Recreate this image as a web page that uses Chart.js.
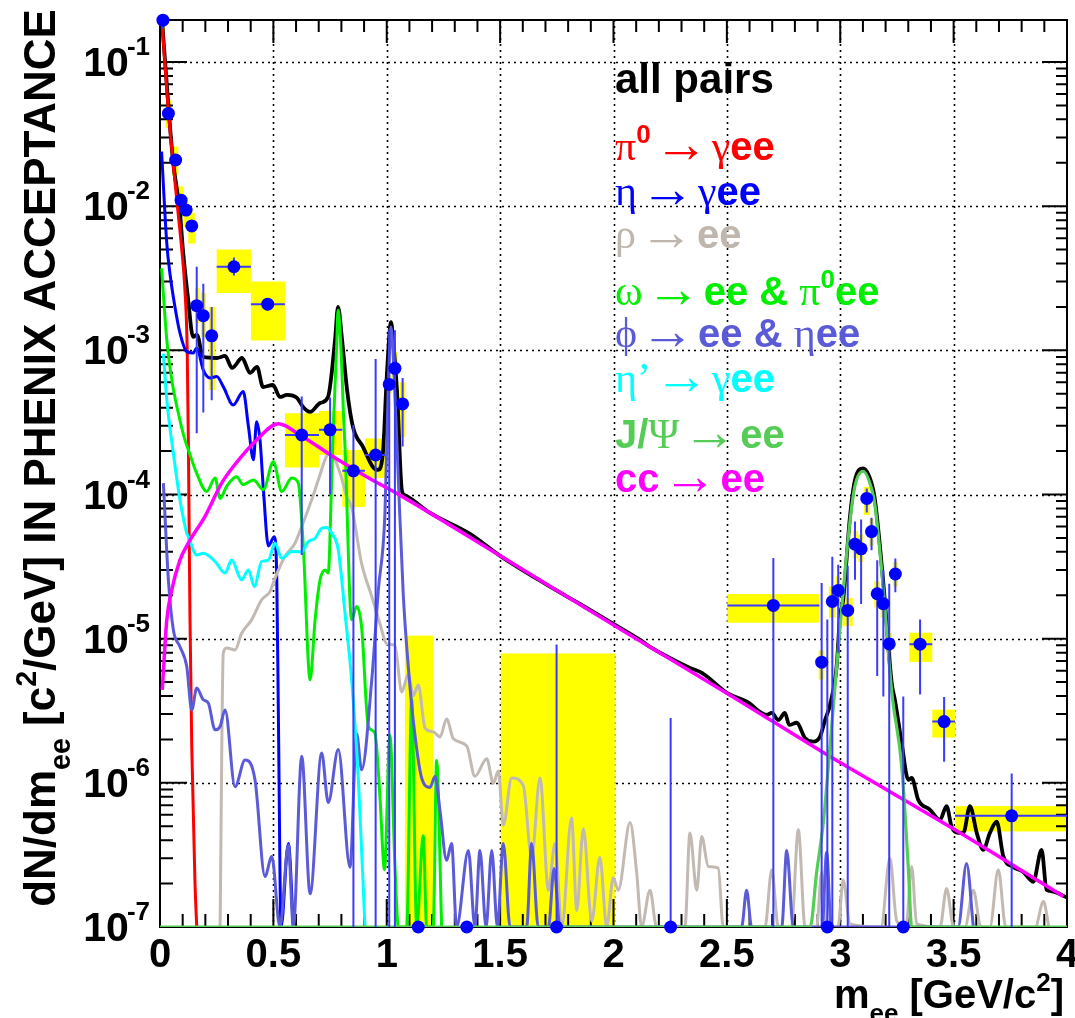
<!DOCTYPE html>
<html><head><meta charset="utf-8">
<script src="https://cdn.jsdelivr.net/npm/chart.js@4.4.1/dist/chart.umd.min.js"></script>
<style>html,body{margin:0;padding:0;background:#fff}#wrap{width:1075px;height:1018px}</style>
</head><body><div id="wrap"><canvas id="c" width="1075" height="1018"></canvas></div>
<script>
// ---------------- DATA ----------------
const xTickLabels = ["0","0.5","1","1.5","2","2.5","3","3.5","4"];
const xTickValues = [0,0.5,1,1.5,2,2.5,3,3.5,4];
const yDecades = [-1,-2,-3,-4,-5,-6,-7];

const allPairs = [[0.009,0.195],[0.035,0.0545],[0.057,0.0209],[0.088,0.009],[0.101,0.005],[0.123,0.00234],[0.146,0.00124],[0.163,0.00128],[0.19,9.0e-4],[0.251,8.85e-4],[0.287,9.14e-4],[0.318,7.55e-4],[0.362,8.85e-4],[0.397,6.97e-4],[0.428,7.67e-4],[0.454,5.57e-4],[0.498,5.75e-4],[0.529,4.75e-4],[0.56,4.91e-4],[0.604,4.68e-4],[0.631,4.05e-4],[0.662,3.74e-4],[0.706,4.31e-4],[0.741,4.75e-4],[0.772,1.18e-3],[0.785,2.0e-3],[0.803,1.18e-3],[0.825,5.31e-4],[0.851,2.94e-4],[0.895,2.14e-4],[0.939,1.55e-4],[0.961,1.48e-4],[0.983,1.94e-4],[1.001,6.97e-4],[1.019,1.57e-3],[1.028,1.18e-3],[1.045,5.31e-4],[1.067,1.06e-4],[1.08,9.9e-5],[1.191,7.45e-5],[1.367,5.33e-5],[1.5,3.75e-5],[1.707,2.36e-5],[1.852,1.74e-5],[1.998,1.27e-5],[2.117,9.8e-6],[2.161,8.77e-6],[2.337,6.27e-6],[2.39,5.79e-6],[2.5,4.21e-6],[2.589,3.65e-6],[2.676,2.96e-6],[2.698,3.06e-6],[2.727,2.73e-6],[2.756,3.06e-6],[2.775,2.52e-6],[2.808,2.61e-6],[2.845,2.04e-6],[2.881,1.93e-6],[2.911,2.09e-6],[2.933,2.73e-6],[2.955,3.48e-6],[2.984,6.41e-6],[2.999,1.42e-5],[3.013,1.86e-5],[3.043,7.03e-5],[3.065,1.26e-4],[3.101,1.52e-4],[3.138,1.2e-4],[3.153,9.18e-5],[3.19,2.43e-5],[3.227,4.91e-6],[3.241,3.77e-6],[3.271,1.89e-6],[3.3,1.05e-6],[3.315,1.08e-6],[3.344,7.62e-7],[3.396,6.5e-7],[3.44,5.54e-7],[3.469,6.9e-7],[3.491,4.95e-7],[3.521,4.5e-7],[3.543,4.5e-7],[3.572,6.9e-7],[3.602,4.5e-7],[3.631,3.43e-7],[3.66,4.5e-7],[3.69,5.37e-7],[3.719,3.1e-7],[3.763,2.61e-7],[3.807,2.41e-7],[3.851,2.06e-7],[3.888,3.43e-7],[3.91,1.81e-7],[3.932,1.77e-7],[4.0,1.6e-7]];

const pi0Dalitz = [[0.009,0.19],[0.035,0.05],[0.074,0.011],[0.096,0.005],[0.11,0.0026],[0.12,1.0e-3],[0.125,2.4e-4],[0.129,4.8e-5],[0.132,1.5e-5],[0.14,1.8e-6],[0.154,2.1e-7],[0.162,1.0e-7]];

const etaDalitz = [[0.007,0.0239],[0.03,0.0055],[0.044,0.0034],[0.066,0.0020],[0.088,0.00132],[0.118,9.8e-4],[0.147,9.6e-4],[0.162,1.04e-3],[0.191,7.3e-4],[0.221,6.44e-4],[0.25,6.58e-4],[0.279,5.6e-4],[0.323,4.18e-4],[0.367,5.18e-4],[0.39,2.96e-4],[0.412,1.74e-4],[0.426,3.2e-4],[0.441,2.39e-4],[0.456,1.08e-4],[0.478,4.4e-5],[0.504,5.1e-5],[0.515,2.6e-5],[0.522,3.0e-6],[0.534,1e-7],[0.566,3.8e-7],[0.588,1e-7]];

const rhoEE = [[0.265,1e-7],[0.279,7.94e-6],[0.294,8.6e-6],[0.331,8.36e-6],[0.36,1.09e-5],[0.404,1.35e-5],[0.448,1.86e-5],[0.485,2.12e-5],[0.507,2.62e-5],[0.551,3.71e-5],[0.595,4.59e-5],[0.625,5.98e-5],[0.669,9.18e-5],[0.698,1.26e-4],[0.742,1.93e-4],[0.75,1.95e-4],[0.794,1.41e-4],[0.823,9.7e-5],[0.845,8.2e-5],[0.889,3.33e-5],[0.934,1.96e-5],[0.97,1.27e-5],[1.0,9.2e-6],[1.036,8.97e-6],[1.066,4.26e-6],[1.095,5.67e-6],[1.117,4.02e-6],[1.139,4.78e-6],[1.169,2.4e-6],[1.205,2.26e-6],[1.235,2.08e-6],[1.264,2.77e-6],[1.294,2.02e-6],[1.353,1.8e-6],[1.389,1.11e-6],[1.441,1.47e-6],[1.47,9.9e-7],[1.492,1.21e-6],[1.514,5.1e-7],[1.551,1.08e-6],[1.602,9.6e-7],[1.639,3.05e-7],[1.676,1.08e-6],[1.713,1.8e-7],[1.742,3.8e-7],[1.772,1e-7],[1.815,5.7e-7],[1.838,1.3e-7],[1.867,4.8e-7],[1.904,1.1e-7],[1.94,3.05e-7],[1.97,1e-7],[1.999,2.2e-7],[2.021,1.8e-7],[2.073,5.3e-7],[2.102,2.4e-7],[2.124,1e-7],[2.161,1.8e-7],[2.19,1e-7],[2.315,1e-7],[2.337,4.48e-7],[2.367,1.8e-7],[2.389,4.25e-7],[2.418,2.63e-7],[2.462,2.56e-7],[2.484,1e-7],[2.668,1e-7],[2.698,2.5e-7],[2.727,1e-7],[2.785,1e-7],[2.815,4.72e-7],[2.845,1e-7],[2.896,1e-7],[2.918,2.4e-7],[2.94,1e-7],[2.99,1e-7],[3.013,2.12e-7],[3.043,1.05e-7],[3.18,1e-7],[3.219,3.0e-7],[3.249,1.1e-7],[3.29,1e-7],[3.315,2.63e-7],[3.337,1.05e-7],[3.44,1e-7],[3.469,1.85e-7],[3.5,1e-7],[3.55,1e-7],[3.587,1.8e-7],[3.62,1e-7],[3.66,1e-7],[3.697,2.5e-7],[3.73,1e-7],[3.86,1e-7],[3.896,1.5e-7],[3.92,1e-7]];

const omegaEE = [[0.007,3.71e-3],[0.03,1.18e-3],[0.052,6.24e-4],[0.081,3.66e-4],[0.11,2.39e-4],[0.125,2.04e-4],[0.162,1.4e-4],[0.206,1.05e-4],[0.243,1.3e-4],[0.265,9.4e-5],[0.294,1.14e-4],[0.338,1.33e-4],[0.367,1.17e-4],[0.412,1.26e-4],[0.456,1.08e-4],[0.5,1.69e-4],[0.537,1.05e-4],[0.581,1.3e-4],[0.61,1.2e-4],[0.632,4.36e-5],[0.662,5.18e-6],[0.684,1.35e-5],[0.706,2.56e-5],[0.728,3.0e-5],[0.742,2.85e-5],[0.757,1.26e-4],[0.764,2.8e-4],[0.779,1.06e-3],[0.785,1.9e-3],[0.801,8.15e-4],[0.809,3.66e-4],[0.816,2.15e-4],[0.845,1.35e-5],[0.867,1.67e-5],[0.889,1.21e-5],[0.919,2.46e-6],[0.948,2.21e-6],[0.97,8e-7],[0.99,2.5e-7],[1.014,2.14e-6],[1.036,2.7e-7],[1.051,1e-7],[1.088,1e-7],[1.11,3.8e-6],[1.132,1e-7],[1.161,4.3e-7],[1.176,1e-7],[1.205,1e-7],[1.22,1.43e-6],[1.242,1e-7]];

const phiEE = [[0.015,1.2e-4],[0.037,2.56e-5],[0.059,1.15e-5],[0.088,8.8e-6],[0.118,6.4e-6],[0.14,3.2e-6],[0.162,4.54e-6],[0.191,3.77e-6],[0.213,3.58e-6],[0.243,2.33e-6],[0.265,2.46e-6],[0.287,3.2e-6],[0.331,9.4e-7],[0.375,1.44e-6],[0.419,1.05e-6],[0.463,2.24e-7],[0.493,3.08e-7],[0.529,1e-7],[0.566,3.7e-7],[0.588,1e-7],[0.625,1.53e-6],[0.662,1.7e-7],[0.713,1.61e-6],[0.742,7.3e-7],[0.786,1.7e-6],[0.838,2.6e-7],[0.867,2.2e-6],[0.889,1.23e-6],[0.934,5.2e-6],[0.963,2.18e-5],[0.992,7.4e-5],[1.006,5e-4],[1.019,1.45e-3],[1.032,7e-4],[1.051,1.29e-4],[1.073,2e-5],[1.095,6.4e-6],[1.117,2.7e-6],[1.154,1.08e-6],[1.191,9.3e-7],[1.213,1.11e-6],[1.235,6.4e-7],[1.264,2.9e-7],[1.286,3.8e-7],[1.308,1e-7],[1.36,3.4e-7],[1.389,1e-7],[1.411,3.4e-7],[1.438,1e-7],[1.463,3.4e-7],[1.488,1e-7],[1.514,3.8e-7],[1.544,1e-7],[1.617,1e-7],[1.639,3.8e-7],[1.668,1e-7],[1.713,1e-7],[1.738,2.55e-7],[1.764,1e-7],[2.565,1e-7],[2.587,1.8e-7],[2.609,1e-7],[2.742,1e-7],[2.764,3.4e-7],[2.793,1e-7],[2.92,1e-7],[2.94,3.3e-7],[2.96,1e-7],[3.52,1e-7],[3.557,2.76e-7],[3.587,1e-7]];

const etaPrimeDalitz = [[0.015,9.5e-4],[0.03,4.53e-4],[0.059,1.93e-4],[0.088,9.2e-5],[0.118,5.4e-5],[0.125,5.1e-5],[0.162,3.81e-5],[0.191,3.92e-5],[0.243,3.43e-5],[0.287,2.85e-5],[0.316,3.51e-5],[0.36,2.56e-5],[0.39,3.0e-5],[0.416,2.3e-5],[0.448,3.43e-5],[0.478,3.51e-5],[0.507,4.6e-5],[0.537,3.61e-5],[0.581,4.02e-5],[0.625,4.0e-5],[0.654,4.71e-5],[0.684,4.97e-5],[0.713,5.83e-5],[0.735,5.9e-5],[0.757,5.4e-5],[0.786,4.13e-5],[0.816,1.5e-5],[0.845,5.2e-6],[0.875,1.05e-6],[0.904,1e-7]];

const jpsiEE = [[0,1e-7],[2.867,1e-7],[2.896,2.4e-7],[2.925,5.25e-7],[2.955,1.8e-6],[2.999,1.2e-5],[3.043,6.5e-5],[3.065,1.15e-4],[3.101,1.45e-4],[3.138,1.1e-4],[3.153,8.5e-5],[3.19,2.2e-5],[3.227,4.3e-6],[3.271,1.3e-6],[3.3,2.6e-7],[3.315,1e-7],[4,1e-7]];

const charmEE = [[0.01,4.42e-6],[0.03,1.35e-5],[0.052,2.18e-5],[0.088,3.51e-5],[0.125,4.61e-5],[0.198,7.03e-5],[0.272,1.2e-4],[0.323,1.56e-4],[0.426,2.39e-4],[0.522,3.09e-4],[0.617,2.59e-4],[0.764,1.83e-4],[0.911,1.33e-4],[1.058,9.9e-5],[1.5,3.76e-5],[2.073,1.06e-5],[2.5,4.19e-6],[2.955,1.52e-6],[3.506,4.72e-7],[3.984,1.63e-7]];

// measured points (1e-7 = at/below lower edge; 1e-8 = error reaching below the frame)
const ptX   = [0.013,0.037,0.069,0.093,0.115,0.14,0.162,0.191,0.228,0.326,0.475,0.625,0.75,0.853,0.951,1.011,1.036,1.07,1.139,1.353,1.749,2.252,2.705,2.918,2.943,2.965,2.991,3.033,3.065,3.092,3.117,3.138,3.163,3.19,3.216,3.243,3.278,3.352,3.458,3.756];
const ptY   = [0.195,0.044,0.0209,0.011,0.0094,0.0073,0.00204,0.00174,0.00126,0.0038,0.00209,2.59e-4,2.81e-4,1.46e-4,1.88e-4,5.8e-4,7.5e-4,4.25e-4,1e-7,1e-7,1e-7,1e-7,1.7e-5,6.87e-6,1e-7,1.81e-5,2.16e-5,1.57e-5,4.52e-5,4.2e-5,9.4e-5,5.53e-5,2.05e-5,1.75e-5,9.2e-6,2.81e-5,1e-7,9.16e-6,2.66e-6,5.9e-7];
const ptXLo = [0.005,0.025,0.054,0.078,0.103,0.125,0.154,0.18,0.215,0.25,0.401,0.551,0.701,0.804,0.904,1.0,1.025,1.058,1.08,1.34,1.503,2.24,2.502,2.905,2.93,2.95,2.98,3.01,3.055,3.08,3.105,3.128,3.15,3.178,3.205,3.232,3.27,3.305,3.406,3.506];
const ptXHi = [0.022,0.052,0.081,0.103,0.125,0.154,0.172,0.203,0.245,0.401,0.551,0.701,0.804,0.904,0.992,1.022,1.047,1.08,1.205,1.36,2.006,2.26,2.908,2.93,2.95,2.98,3.0,3.055,3.078,3.1,3.13,3.148,3.175,3.2,3.228,3.255,3.29,3.406,3.506,4.0];
const ptErrLo = [0.17,0.040,0.019,0.0102,0.0087,0.0067,2.66e-4,3.7e-4,4.5e-4,0.0033,0.0019,3.8e-5,1.0e-4,1e-8,1e-8,1e-8,1e-8,2.15e-4,null,null,1e-8,1e-8,1e-8,1e-8,1e-8,1e-8,8e-6,1e-8,2.56e-5,1.74e-5,7.5e-5,4.1e-5,5.5e-6,3.97e-6,1e-8,2.1e-5,1e-8,4.1e-6,1.4e-6,1e-8];
const ptErrHi = [0.22,0.048,0.023,0.0118,0.0101,0.0079,3.8e-3,2.9e-3,2.0e-3,0.0044,0.0023,4.78e-4,4.7e-4,3.04e-4,8.7e-4,1.4e-3,1.38e-3,6.44e-4,null,null,9.1e-6,2.82e-6,3.63e-5,2.43e-5,1.36e-5,3.7e-5,3.25e-5,3.2e-5,6.5e-5,6.7e-5,1.1e-4,6.9e-5,3.5e-5,3.0e-5,2.4e-5,3.6e-5,3.97e-6,1.36e-5,3.94e-6,1.16e-6];
const ptSysLo = [0.154,0.0348,0.0164,0.0085,0.0072,0.0055,1.55e-3,1.24e-3,5.3e-4,0.0025,0.00117,1.54e-4,1.88e-4,8.2e-5,1.3e-4,5.0e-4,5.9e-4,2.5e-4,1e-8,null,1e-8,null,1.29e-5,5.2e-6,null,1.4e-5,1.7e-5,1.22e-5,3.6e-5,3.4e-5,7.2e-5,4.4e-5,1.65e-5,1.4e-5,7.0e-6,2.3e-5,null,6.9e-6,2.06e-6,4.6e-7];
const ptSysHi = [0.25,0.0545,0.0259,0.0137,0.011,0.009,2.7e-3,2.5e-3,2.0e-3,0.005,0.003,3.66e-4,3.8e-4,2.04e-4,2.45e-4,6.7e-4,9.8e-4,6.0e-4,1.05e-5,null,7.9e-6,null,2.04e-5,8.3e-6,null,2.3e-5,2.7e-5,1.92e-5,5.6e-5,5.3e-5,1.13e-4,6.8e-5,2.5e-5,2.2e-5,1.1e-5,3.4e-5,null,1.1e-5,3.22e-6,6.9e-7];

// ---------------- RENDER ----------------
const SANS = '"Liberation Sans", Arial, Helvetica, sans-serif';
const SERIF = '"Liberation Serif", "DejaVu Serif", "Times New Roman", serif';
const STY = {
  b:   {font: s => `bold ${40*s}px ${SANS}`, dy: 0},
  L:   {font: s => `bold ${42*s}px ${SANS}`, dy: 0},
  s:   {font: s => `${42*s}px ${SERIF}`, dy: 0},
  a:   {font: s => `${54*s}px ${SERIF}`, dy: 2},
  sp:  {font: s => `${14*s}px ${SERIF}`, dy: 0},
  sup: {font: s => `bold ${26*s}px ${SANS}`, dy: -17},
  sub: {font: s => `bold ${26*s}px ${SANS}`, dy: 14}
};
function richWidth(ctx, segs, sc){ let w=0; for(const g of segs){ctx.font=STY[g[1]].font(sc); w+=ctx.measureText(g[0]).width;} return w; }
function drawRich(ctx, x, y, segs, sc, color){
  let cx=x;
  for(const g of segs){ const st=STY[g[1]]; ctx.font=st.font(sc); ctx.fillStyle=g[2]||color; ctx.fillText(g[0],cx,y+st.dy*sc); cx+=ctx.measureText(g[0]).width; }
  return cx;
}
const legendLines = [
  {y:93,  c:'#000000', segs:[["all pairs","L"]]},
  {y:160, c:'#ff0000', segs:[["π","s"],["0","sup"],[" ","sp"],["→","a"],[" ","sp"],["γ","s"],["ee","b"]]},
  {y:205, c:'#0000ff', segs:[["η","s"],[" ","sp"],["→","a"],[" ","sp"],["γ","s"],["ee","b"]]},
  {y:248, c:'#bfb6ad', segs:[["ρ","s"],[" ","sp"],["→","a"],[" ","sp"],["ee","b"]]},
  {y:305, c:'#00ee00', segs:[["ω","s"],[" ","sp"],["→","a"],[" ","sp"],["ee & ","b"],["π","s"],["0","sup"],["ee","b"]]},
  {y:347, c:'#5b5bd8', segs:[["ϕ","s"],[" ","sp"],["→","a"],[" ","sp"],["ee & ","b"],["η","s"],["ee","b"]]},
  {y:392, c:'#00ffff', segs:[["η’","s"],[" ","sp"],["→","a"],[" ","sp"],["γ","s"],["ee","b"]]},
  {y:448, c:'#55cc55', segs:[["J/","b"],["Ψ","s"],[" ","sp"],["→","a"],[" ","sp"],["ee","b"]]},
  {y:492, c:'#ff00ff', segs:[["cc","b"],[" ","sp"],["→","a"],[" ","sp"],["ee","b"]]}
];

const decor = {
  id:'decor',
  beforeDatasetsDraw(chart){
    const {ctx, chartArea:a, scales:{x,y}} = chart;
    ctx.save();
    ctx.strokeStyle='#000'; ctx.lineWidth=1.6; ctx.setLineDash([2,4]);
    for(const v of xTickValues){ if(v<=0||v>=4) continue; const px=Math.round(x.getPixelForValue(v))+0.5; ctx.beginPath(); ctx.moveTo(px,a.top); ctx.lineTo(px,a.bottom); ctx.stroke(); }
    for(const d of yDecades){ if(d<=-7) continue; const py=Math.round(y.getPixelForValue(Math.pow(10,d)))+0.5; ctx.beginPath(); ctx.moveTo(a.left,py); ctx.lineTo(a.right,py); ctx.stroke(); }
    ctx.setLineDash([]);
    ctx.beginPath(); ctx.rect(a.left,a.top,a.right-a.left,a.bottom-a.top); ctx.clip();
    ctx.fillStyle='#ffff00';
    for(let i=0;i<ptX.length;i++){
      if(ptSysLo[i]==null||ptSysHi[i]==null) continue;
      const x0=x.getPixelForValue(ptXLo[i]), x1=x.getPixelForValue(ptXHi[i]);
      const y0=y.getPixelForValue(ptSysHi[i]), y1=y.getPixelForValue(ptSysLo[i]);
      ctx.fillRect(x0,y0,x1-x0,y1-y0);
    }
    ctx.restore();
    ctx.save();
    ctx.strokeStyle='#000'; ctx.lineWidth=2;
    ctx.strokeRect(a.left,a.top,a.right-a.left,a.bottom-a.top);
    ctx.beginPath();
    for(let i=1;i<40;i++){ const v=i/10, px=x.getPixelForValue(v), maj=(i%5===0);
      ctx.moveTo(px,a.bottom); ctx.lineTo(px,a.bottom-(maj?28:13));
      ctx.moveTo(px,a.top); ctx.lineTo(px,a.top+(maj?23:12)); }
    for(let d=-7; d<=-1; d++){ for(let m=1;m<=9;m++){ const v=m*Math.pow(10,d); if(v>y.max||v<y.min) continue;
      const py=y.getPixelForValue(v), maj=(m===1);
      ctx.moveTo(a.left,py); ctx.lineTo(a.left+(maj?27:13),py);
      ctx.moveTo(a.right,py); ctx.lineTo(a.right-(maj?25:11),py); } }
    ctx.stroke();
    ctx.restore();
  },
  beforeDatasetDraw(chart,args){
    if(args.index!==0) return;
    const {ctx, chartArea:a, scales:{x,y}} = chart;
    ctx.save();
    ctx.beginPath(); ctx.rect(a.left,a.top,a.right-a.left,a.bottom-a.top); ctx.clip();
    ctx.strokeStyle='#3b3bff'; ctx.lineWidth=2; ctx.beginPath();
    for(let i=0;i<ptX.length;i++){
      const px=x.getPixelForValue(ptX[i]), py=y.getPixelForValue(ptY[i]);
      if(ptErrLo[i]!=null && ptErrHi[i]!=null){ ctx.moveTo(px,y.getPixelForValue(ptErrLo[i])); ctx.lineTo(px,y.getPixelForValue(ptErrHi[i])); }
      if(ptY[i]>1e-7){ ctx.moveTo(x.getPixelForValue(ptXLo[i]),py); ctx.lineTo(x.getPixelForValue(ptXHi[i]),py); }
    }
    ctx.stroke(); ctx.restore();
  },
  afterDraw(chart){
    const {ctx, chartArea:a, scales:{x,y}} = chart;
    ctx.save(); ctx.fillStyle='#000'; ctx.textBaseline='alphabetic';
    ctx.font=`bold 40px ${SANS}`; ctx.textAlign='center';
    xTickValues.forEach((v,i)=>{ ctx.fillText(xTickLabels[i], x.getPixelForValue(v), 967); });
    ctx.textAlign='left';
    for(const d of yDecades){
      const py=y.getPixelForValue(Math.pow(10,d));
      ctx.font=`bold 26px ${SANS}`; const ws=ctx.measureText(String(d)).width;
      ctx.font=`bold 41px ${SANS}`; const wb=ctx.measureText("10").width;
      const x1=150-ws; ctx.fillText("10", x1-wb+2, py+14);
      ctx.font=`bold 26px ${SANS}`; ctx.fillText(String(d), x1, py-7);
    }
    const xt=[["m","b"],["ee","sub"],[" [GeV/c","b"],["2","sup"],["]","b"]];
    const wx=richWidth(ctx,xt,1); drawRich(ctx,1064-wx,1008,xt,1,'#000');
    const yt=[["dN/dm","b"],["ee","sub"],[" [c","b"],["2","sup"],["/GeV] IN PHENIX ACCEPTANCE","b"]];
    const sc=1.1; const wy=richWidth(ctx,yt,sc);
    ctx.translate(55, 458+wy/2); ctx.rotate(-Math.PI/2); drawRich(ctx,0,0,yt,sc,'#000');
    ctx.setTransform(1,0,0,1,0,0);
    for(const L of legendLines){ drawRich(ctx,615,L.y,L.segs,1,L.c); }
    ctx.restore();
  }
};

const xy = arr => arr.map(p=>({x:p[0],y:p[1]}));
const line = (data,color,w) => ({data:xy(data), borderColor:color, borderWidth:w, pointRadius:0, fill:false, cubicInterpolationMode:'monotone', borderJoinStyle:'round'});

new Chart(document.getElementById('c'), {
  type:'line',
  data:{datasets:[
    {data:ptX.map((v,i)=>({x:v,y:ptY[i]})), showLine:false, pointRadius:6.5, pointBackgroundColor:'#0000ff', pointBorderWidth:0, borderColor:'#0000ff', clip:false},
    line(jpsiEE,'#55cc55',3.2),
    line(charmEE,'#ff00ff',3.5),
    line(etaPrimeDalitz,'#00ffff',3),
    line(phiEE,'#5b5bd8',3),
    line(omegaEE,'#00ee00',3),
    line(rhoEE,'#c2bab2',3),
    line(etaDalitz,'#0000ff',3),
    line(pi0Dalitz,'#ff0000',3),
    line(allPairs,'#000000',3.8)
  ]},
  options:{
    responsive:false, animation:false, events:[],
    layout:{padding:{left:160, top:20, right:8, bottom:91}},
    scales:{
      x:{type:'linear', min:0, max:4, display:false},
      y:{type:'logarithmic', min:1e-7, max:0.1956, display:false}
    },
    plugins:{legend:{display:false}, tooltip:{enabled:false}}
  },
  plugins:[decor]
});
</script></body></html>
